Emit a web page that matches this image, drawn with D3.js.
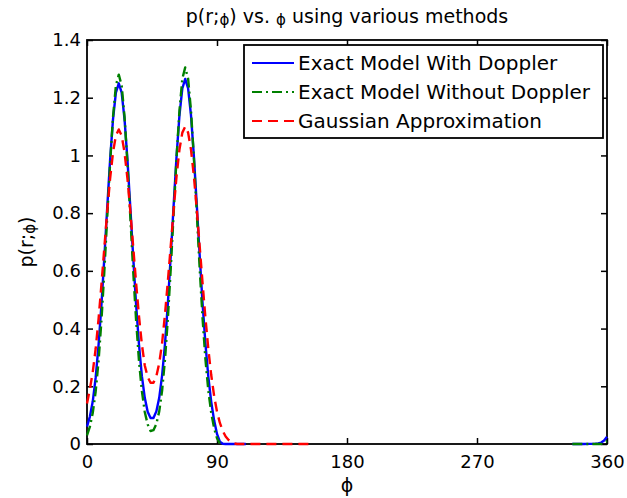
<!DOCTYPE html>
<html>
<head>
<meta charset="utf-8">
<script src="https://cdn.jsdelivr.net/npm/d3@7"></script>
<style>
  html, body { margin: 0; padding: 0; background: #fff; }
  svg { display: block; font-family: "DejaVu Sans", sans-serif; }
</style>
</head>
<body>
<svg id="chart" width="627" height="498"></svg>
<script>
// Angle grid (degrees) shared by the main segments of the curves
const phi = d3.range(0, 158, 2);

// Exact model with Doppler, sampled on phi (0..110)
const withDoppler = [
  0.060, 0.095, 0.148, 0.230, 0.343, 0.483, 0.646, 0.819, 0.985, 1.125,
  1.218, 1.250, 1.218, 1.125, 0.985, 0.819, 0.646, 0.483, 0.344, 0.235,
  0.160, 0.112, 0.090, 0.090, 0.113, 0.160, 0.238, 0.347, 0.488, 0.654,
  0.829, 0.997, 1.139, 1.232, 1.265, 1.232, 1.139, 0.997, 0.829, 0.654,
  0.488, 0.347, 0.233, 0.146, 0.082, 0.035, 0.008, 0.001, 0, 0,
  0, 0, 0, 0, 0, 0
];

// Exact model without Doppler, sampled on phi (0..92)
const withoutDoppler = [
  0.030, 0.060, 0.108, 0.182, 0.287, 0.428, 0.598, 0.786, 0.973, 1.133,
  1.242, 1.280, 1.242, 1.133, 0.973, 0.786, 0.598, 0.428, 0.287, 0.183,
  0.111, 0.068, 0.045, 0.048, 0.069, 0.113, 0.185, 0.293, 0.436, 0.609,
  0.801, 0.992, 1.155, 1.266, 1.305, 1.266, 1.155, 0.992, 0.801, 0.609,
  0.436, 0.293, 0.185, 0.108, 0.055, 0.020, 0.002
];

// Gaussian approximation, sampled on phi (0..156)
const gaussian = [
  0.140, 0.190, 0.250, 0.330, 0.433, 0.553, 0.680, 0.806, 0.920, 1.010,
  1.069, 1.090, 1.069, 1.010, 0.920, 0.807, 0.682, 0.558, 0.442, 0.345,
  0.272, 0.232, 0.212, 0.212, 0.235, 0.280, 0.350, 0.450, 0.565, 0.688,
  0.813, 0.928, 1.020, 1.079, 1.100, 1.079, 1.020, 0.928, 0.813, 0.686,
  0.558, 0.437, 0.329, 0.239, 0.167, 0.112, 0.073, 0.045, 0.026, 0.014,
  0.006, 0.002, 0, 0, 0, 0, 0, 0, 0, 0,
  0, 0, 0, 0, 0, 0, 0, 0, 0, 0,
  0, 0, 0, 0, 0, 0, 0, 0, 0
];

// Wrap-around tail just below 360 degrees
const phiTail = [336, 340, 344, 348, 352, 354, 356, 358, 360];
const withDopplerTail = [0, 0, 0, 0.0005, 0.001, 0.002, 0.005, 0.012, 0.025];
const withoutDopplerTail = [0, 0, 0, 0, 0, 0, 0, 0.004, 0.010];

const xTicks = [0, 90, 180, 270, 360];
const xTickLabels = ["0", "90", "180", "270", "360"];
const yTicks = [0, 0.2, 0.4, 0.6, 0.8, 1, 1.2, 1.4];
const yTickLabels = ["0", "0.2", "0.4", "0.6", "0.8", "1", "1.2", "1.4"];

const seriesNames = ["Exact Model With Doppler", "Exact Model Without Doppler", "Gaussian Approximation"];
const seriesColors = ["#0000ff", "#008000", "#ff0000"];
const seriesDash = [null, "10,4,2,4", "10,6"];

const svg = d3.select("#chart");
const plotL = 87, plotR = 607, plotT = 40, plotB = 444;

const x = d3.scaleLinear().domain([0, 360]).range([plotL, plotR]);
const y = d3.scaleLinear().domain([0, 1.4]).range([plotB, plotT]);

// Title
const title = svg.append("text")
  .attr("x", (plotL + plotR) / 2).attr("y", 23)
  .attr("text-anchor", "middle").attr("font-size", 19);
title.append("tspan").text("p(r;");
title.append("tspan").attr("font-size", 15).attr("dy", 2).text("ϕ");
title.append("tspan").attr("dy", -2).text(") vs. ");
title.append("tspan").attr("font-size", 15).attr("dy", 2).text("ϕ");
title.append("tspan").attr("dy", -2).text(" using various methods");

// Axes with inward ticks
const tickLen = 6;
svg.append("g").attr("transform", `translate(0,${plotB})`)
  .call(d3.axisBottom(x).tickValues(xTicks).tickSizeInner(-tickLen).tickSizeOuter(0)
    .tickPadding(11).tickFormat((d, i) => xTickLabels[i]))
  .call(g => g.select(".domain").remove());
svg.append("g").attr("transform", `translate(0,${plotT})`)
  .call(d3.axisTop(x).tickValues(xTicks).tickSizeInner(-tickLen).tickSizeOuter(0).tickFormat(""))
  .call(g => g.select(".domain").remove());
svg.append("g").attr("transform", `translate(${plotL},0)`)
  .call(d3.axisLeft(y).tickValues(yTicks).tickSizeInner(-tickLen).tickSizeOuter(0)
    .tickPadding(6).tickFormat((d, i) => yTickLabels[i]))
  .call(g => g.select(".domain").remove());
svg.append("g").attr("transform", `translate(${plotR},0)`)
  .call(d3.axisRight(y).tickValues(yTicks).tickSizeInner(-tickLen).tickSizeOuter(0).tickFormat(""))
  .call(g => g.select(".domain").remove());

svg.selectAll(".tick line").attr("stroke", "#000").attr("stroke-width", 1.5);
svg.selectAll(".tick text").attr("font-size", 18).attr("font-family", "DejaVu Sans, sans-serif").attr("fill", "#000");

svg.append("rect")
  .attr("x", plotL).attr("y", plotT)
  .attr("width", plotR - plotL).attr("height", plotB - plotT)
  .attr("fill", "none").attr("stroke", "#000").attr("stroke-width", 1.8);

// Axis labels
svg.append("text")
  .attr("x", (plotL + plotR) / 2).attr("y", 492)
  .attr("text-anchor", "middle").attr("font-size", 19).text("ϕ");
const yl = svg.append("text")
  .attr("transform", `translate(33,${(plotT + plotB) / 2}) rotate(-90)`)
  .attr("text-anchor", "middle").attr("font-size", 19);
yl.append("tspan").text("p(r;");
yl.append("tspan").attr("font-size", 15).attr("dy", 2).text("ϕ");
yl.append("tspan").attr("dy", -2).text(")");

// Curves
const line = d3.line().x(d => x(d[0])).y(d => y(d[1]));
const segments = [
  [withDoppler, phi, 0],
  [withDopplerTail, phiTail, 0],
  [withoutDoppler, phi, 1],
  [withoutDopplerTail, phiTail, 1],
  [gaussian, phi, 2]
];
segments.forEach(([vals, grid, k]) => {
  const pts = vals.map((v, i) => [grid[i], v]);
  svg.append("path")
    .attr("d", line(pts))
    .attr("fill", "none")
    .attr("stroke", seriesColors[k])
    .attr("stroke-width", 2.4)
    .attr("stroke-dasharray", seriesDash[k])
    .attr("stroke-linejoin", "round");
});

// Legend
const lg = svg.append("g");
lg.append("rect")
  .attr("x", 244).attr("y", 45).attr("width", 359).attr("height", 93)
  .attr("fill", "#fff").attr("stroke", "#000").attr("stroke-width", 1.8);
seriesNames.forEach((name, i) => {
  const cy = 63 + i * 29;
  lg.append("line")
    .attr("x1", 252).attr("x2", 294).attr("y1", cy).attr("y2", cy)
    .attr("stroke", seriesColors[i]).attr("stroke-width", 2)
    .attr("stroke-dasharray", seriesDash[i]);
  lg.append("text")
    .attr("x", 298).attr("y", cy + 7)
    .attr("font-size", 20).text(name);
});
</script>
</body>
</html>
